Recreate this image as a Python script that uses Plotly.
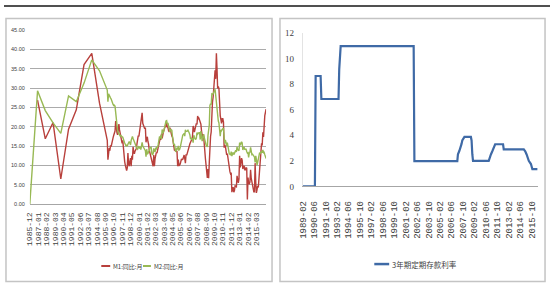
import pandas as pd
import plotly.graph_objects as go

# ---------------- data ----------------
# annual observations (early period)
m1_annual_dates = ["1986-12-01", "1987-12-01", "1988-12-01", "1989-12-01", "1990-12-01",
                   "1991-12-01", "1992-12-01", "1993-12-01", "1994-12-01", "1995-12-01"]
m1_annual = [26.9, 16.9, 21.1, 6.5, 19.4, 24.4, 36.1, 39.0, 26.1, 16.5]

m2_annual_dates = ["1985-12-01", "1986-12-01", "1987-12-01", "1988-12-01", "1989-12-01", "1990-12-01",
                   "1991-12-01", "1992-12-01", "1993-12-01", "1994-12-01", "1995-12-01"]
m2_annual = [0.0, 29.3, 24.2, 21.0, 18.3, 28.0, 26.5, 31.3, 37.3, 34.5, 29.5]

# monthly observations 1996-01 .. 2016-06
m1_monthly = [
    11.5, 13.0, 14.5, 13.8, 15.2, 14.9, 16.0, 16.5, 17.2, 17.8, 18.2, 18.9,   # 1996
    21.5, 19.0, 18.5, 17.9, 19.5, 20.7, 19.2, 18.0, 17.0, 16.2, 15.7, 16.5,   # 1997
    13.5, 11.5, 11.0, 10.0, 9.5, 8.7, 9.4, 13.2, 10.5, 9.8, 11.0, 11.9,       # 1998
    9.8, 12.5, 11.5, 14.8, 13.5, 13.0, 13.7, 14.0, 14.4, 15.6, 16.8, 17.7,    # 1999
    17.5, 19.0, 20.2, 21.0, 22.5, 23.6, 20.9, 20.5, 19.8, 19.5, 19.8, 16.0,   # 2000
    17.0, 17.4, 16.2, 15.5, 14.0, 13.2, 12.5, 11.9, 11.0, 10.3, 9.8, 12.7,    # 2001
    9.8, 11.8, 12.5, 13.4, 13.2, 14.0, 14.8, 15.3, 16.1, 17.0, 16.9, 18.2,    # 2002
    17.0, 18.5, 18.7, 19.2, 20.2, 20.3, 20.0, 21.0, 20.0, 19.8, 19.0, 18.7,   # 2003
    19.8, 18.6, 17.7, 17.6, 17.3, 16.2, 14.8, 14.0, 13.9, 13.7, 13.6, 13.6,   # 2004
    9.8, 11.5, 9.9, 10.1, 10.4, 11.3, 11.7, 11.5, 11.6, 12.1, 12.7, 11.8,     # 2005
    10.6, 12.9, 12.6, 13.2, 14.0, 14.0, 15.3, 15.6, 16.0, 16.3, 16.8, 17.5,   # 2006
    20.2, 19.6, 18.6, 19.4, 19.9, 20.9, 20.6, 22.8, 22.1, 22.2, 21.7, 21.0,   # 2007
    20.7, 18.9, 18.3, 16.9, 18.1, 14.2, 14.0, 11.8, 9.4, 9.0, 6.8, 9.1,       # 2008
    6.7, 10.9, 17.0, 17.5, 18.7, 24.8, 26.4, 27.7, 29.5, 32.0, 34.6, 32.4,    # 2009
    39.0, 34.9, 29.9, 30.4, 29.9, 24.6, 22.9, 21.9, 20.9, 22.1, 22.1, 21.2,   # 2010
    14.6, 15.3, 15.0, 12.9, 12.7, 13.1, 11.6, 11.2, 8.9, 8.4, 7.8, 7.9,       # 2011
    3.1, 4.3, 4.4, 3.1, 3.5, 4.7, 4.6, 4.5, 7.3, 6.1, 5.5, 6.5,               # 2012
    12.5, 9.5, 11.9, 11.9, 11.3, 9.1, 9.7, 9.9, 8.9, 8.9, 9.4, 9.3,           # 2013
    1.2, 6.9, 5.4, 5.3, 5.7, 8.9, 6.7, 5.7, 4.8, 3.2, 3.2, 3.2,               # 2014
    10.6, 5.6, 2.9, 3.7, 4.7, 4.3, 6.6, 9.3, 11.4, 14.0, 15.7, 15.2,          # 2015
    18.6, 17.4, 22.1, 22.9, 23.7, 24.6,                                       # 2016
]
m2_monthly = [
    26.5, 28.5, 28.0, 27.8, 27.5, 27.2, 26.5, 26.0, 25.8, 25.5, 25.6, 25.3,   # 1996
    23.5, 21.0, 19.8, 19.0, 18.5, 18.2, 18.0, 17.6, 17.8, 17.5, 17.4, 17.3,   # 1997
    16.5, 16.0, 15.8, 15.5, 15.0, 15.2, 15.0, 15.5, 16.0, 16.2, 15.8, 15.3,   # 1998
    16.5, 17.2, 17.5, 17.0, 16.5, 16.2, 15.5, 15.0, 14.6, 14.4, 14.2, 14.7,   # 1999
    15.0, 14.5, 14.6, 14.1, 15.5, 16.0, 15.0, 14.7, 14.5, 14.2, 13.8, 12.3,   # 2000
    14.2, 13.0, 13.1, 13.6, 13.8, 14.6, 14.7, 14.7, 13.1, 12.7, 13.0, 14.4,   # 2001
    13.9, 13.5, 14.4, 14.3, 14.9, 14.7, 15.5, 16.5, 17.5, 17.0, 17.8, 16.8,   # 2002
    19.3, 18.5, 18.5, 19.2, 20.2, 20.8, 21.5, 21.6, 20.7, 21.0, 20.4, 19.6,   # 2003
    18.6, 19.4, 19.1, 19.1, 17.5, 16.2, 15.3, 15.6, 13.9, 13.5, 14.0, 14.6,   # 2004
    14.1, 15.1, 14.0, 14.1, 14.6, 15.7, 16.3, 16.9, 17.9, 18.0, 18.3, 17.6,   # 2005
    19.2, 18.8, 18.8, 18.9, 19.1, 18.4, 18.4, 17.9, 16.8, 17.1, 16.8, 16.9,   # 2006
    15.9, 17.8, 17.3, 17.1, 16.7, 17.1, 18.5, 18.1, 18.5, 18.5, 18.5, 16.7,   # 2007
    18.9, 17.5, 16.3, 16.9, 18.1, 17.4, 16.4, 16.0, 15.3, 15.0, 14.8, 17.8,   # 2008
    18.8, 20.5, 25.5, 26.0, 25.7, 28.5, 28.4, 28.5, 29.3, 29.4, 29.7, 27.7,   # 2009
    26.1, 25.5, 22.5, 21.5, 21.0, 18.5, 17.6, 19.2, 19.0, 19.3, 19.5, 19.7,   # 2010
    17.2, 15.7, 16.6, 15.3, 15.1, 15.9, 14.7, 13.5, 13.0, 12.9, 12.7, 13.6,   # 2011
    12.4, 13.0, 13.4, 12.8, 13.2, 13.6, 13.9, 13.5, 14.8, 14.1, 13.9, 13.8,   # 2012
    15.9, 15.2, 15.7, 16.1, 15.8, 14.0, 14.5, 14.7, 14.2, 14.3, 14.2, 13.6,   # 2013
    13.2, 13.3, 12.1, 13.2, 13.4, 14.7, 13.5, 12.8, 12.9, 12.6, 12.3, 12.2,   # 2014
    10.8, 12.5, 11.6, 10.1, 10.8, 11.8, 13.3, 13.3, 13.1, 13.5, 13.7, 13.3,   # 2015
    14.0, 13.3, 13.4, 12.8, 11.8, 11.8,                                       # 2016
]

# 3-year time deposit rate (change points)
rate_dates = ["1989-02-01", "1990-07-01", "1990-08-01", "1991-03-01", "1991-04-01", "1993-04-01",
              "1993-05-01", "1993-07-01", "2002-01-01", "2002-02-01", "2007-02-01", "2007-03-01",
              "2007-05-01", "2007-07-01", "2007-08-01", "2007-09-01", "2007-12-01", "2008-09-01",
              "2008-10-01", "2008-11-01", "2008-12-01", "2010-10-01", "2010-11-01", "2011-01-01",
              "2011-03-01", "2011-05-01", "2011-07-01", "2012-06-01", "2012-07-01", "2014-11-01",
              "2015-01-01", "2015-03-01", "2015-06-01", "2015-09-01", "2015-11-01", "2016-06-01"]
rate_vals = [0.0, 0.0, 8.64, 8.64, 6.84, 6.84,
             9.18, 10.98, 10.98, 1.98, 1.98, 2.52,
             2.79, 3.06, 3.33, 3.60, 3.87, 3.87,
             3.60, 2.52, 2.00, 2.00, 2.25, 2.50,
             2.75, 3.00, 3.30, 3.30, 2.90, 2.90,
             2.75, 2.50, 2.00, 1.75, 1.35, 1.35]

left_ticks = [d.strftime("%Y-%m-%d") for d in pd.date_range("1985-12-01", periods=28, freq="13MS")]
right_ticks = [d.strftime("%Y-%m-%d") for d in pd.date_range("1989-02-01", periods=21, freq="16MS")]

m1_name = "M1:同比:月"
m2_name = "M2:同比:月"
rate_name = "3年期定期存款利率"

# ---------------- figure ----------------
W, H = 550, 300
monthly_dates = [d.strftime("%Y-%m-%d") for d in pd.date_range("1996-01-01", periods=len(m1_monthly), freq="MS")]

RED = "#b8403c"
GREEN = "#98b954"
BLUE = "#3f6aa6"

fig = go.Figure()
fig.add_trace(go.Scatter(x=m1_annual_dates + monthly_dates, y=m1_annual + m1_monthly, mode="lines",
                         line=dict(color=RED, width=1.4), name=m1_name, xaxis="x", yaxis="y"))
fig.add_trace(go.Scatter(x=m2_annual_dates + monthly_dates, y=m2_annual + m2_monthly, mode="lines",
                         line=dict(color=GREEN, width=1.4), name=m2_name, xaxis="x", yaxis="y"))
fig.add_trace(go.Scatter(x=rate_dates, y=rate_vals, mode="lines",
                         line=dict(color=BLUE, width=2.2), name=rate_name, xaxis="x2", yaxis="y2"))

def px_x(p):
    return p / W

def px_y(p):
    return 1 - p / H

fig.update_layout(
    width=W, height=H, margin=dict(l=0, r=0, t=0, b=0),
    paper_bgcolor="white", plot_bgcolor="white", showlegend=False,
    xaxis=dict(domain=[px_x(26), px_x(264)], type="date",
               range=["1985-12-01", "2016-06-01"],
               tickvals=left_ticks, tickformat="%Y-%m", tickangle=-90,
               tickfont=dict(family="Liberation Mono", size=8, color="#404040"),
               showgrid=False, zeroline=False, showline=True, linecolor="#a6a6a6", linewidth=1,
               ticks="", ticklabelstandoff=4),
    yaxis=dict(domain=[px_y(206), px_y(26)], range=[0, 45], dtick=5, tickformat=".2f",
               tickfont=dict(family="Liberation Sans", size=5.5, color="#404040"),
               showgrid=True, gridcolor="#ababab", gridwidth=1, zeroline=False, showline=False,
               ticks="", ticklabelstandoff=4),
    xaxis2=dict(domain=[px_x(301), px_x(538)], type="date", anchor="y2",
                range=["1989-02-01", "2016-07-01"],
                tickvals=right_ticks, tickformat="%Y-%m", tickangle=-90,
                tickfont=dict(family="Liberation Mono", size=9, color="#404040"),
                showgrid=False, zeroline=False, showline=True, linecolor="#a6a6a6", linewidth=1,
                ticks="", ticklabelstandoff=10),
    yaxis2=dict(domain=[px_y(187.7), px_y(29)], anchor="x2", range=[0, 12], dtick=2,
                tickfont=dict(family="Liberation Serif", size=9, color="#404040"),
                showgrid=False, zeroline=False, showline=True, linecolor="#e3e3e3", linewidth=1,
                ticks="", ticklabelstandoff=6),
)

shapes = []
# top dark rule
shapes.append(dict(type="line", xref="paper", yref="paper", x0=0, x1=1, y0=px_y(1), y1=px_y(1),
                   line=dict(color="#505050", width=2)))
# panel frames
for x0, x1 in [(2, 270), (278, 545)]:
    shapes.append(dict(type="rect", xref="paper", yref="paper", x0=px_x(x0), x1=px_x(x1),
                       y0=px_y(286), y1=px_y(14), line=dict(color="#c4c4c4", width=1.5)))
# legend swatches
shapes.append(dict(type="line", xref="paper", yref="paper", x0=px_x(98), x1=px_x(107),
                   y0=px_y(270), y1=px_y(270), line=dict(color=RED, width=2)))
shapes.append(dict(type="line", xref="paper", yref="paper", x0=px_x(140), x1=px_x(148),
                   y0=px_y(270), y1=px_y(270), line=dict(color=GREEN, width=2)))
shapes.append(dict(type="line", xref="paper", yref="paper", x0=px_x(373), x1=px_x(388),
                   y0=px_y(268), y1=px_y(268), line=dict(color=BLUE, width=2.5)))
fig.update_layout(shapes=shapes)

cjk = "Noto Sans CJK SC"
fig.add_annotation(xref="paper", yref="paper", x=px_x(108), y=px_y(270), xanchor="left", yanchor="middle",
                   text=m1_name, showarrow=False, font=dict(family=cjk, size=6, color="#404040"))
fig.add_annotation(xref="paper", yref="paper", x=px_x(149), y=px_y(270), xanchor="left", yanchor="middle",
                   text=m2_name, showarrow=False, font=dict(family=cjk, size=6, color="#404040"))
fig.add_annotation(xref="paper", yref="paper", x=px_x(389), y=px_y(268), xanchor="left", yanchor="middle",
                   text=rate_name, showarrow=False, font=dict(family=cjk, size=7.5, color="#404040"))

fig.write_html("out.html")
